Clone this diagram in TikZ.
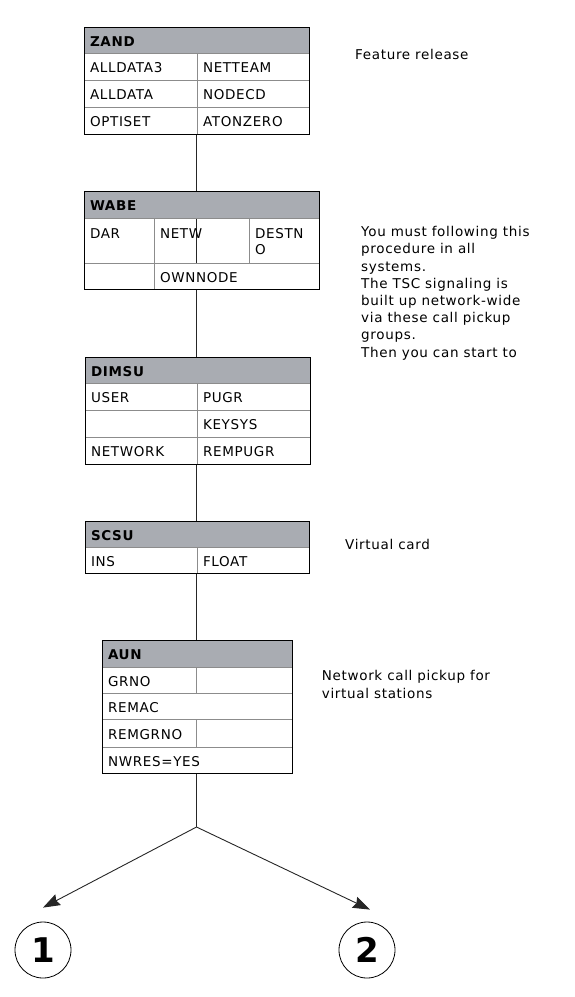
\documentclass[tikz,border=0pt]{standalone}
\usepackage{fontspec}
\newfontfamily\cellfont{DejaVu Sans}[LetterSpace=5]
\newfontfamily\numfont{DejaVu Sans}
\usetikzlibrary{backgrounds,
  arrows.meta,
  fit,
  positioning,
  calc}
\pgfdeclarelayer{background}
\pgfsetlayers{background,main}
\definecolor{headgray}{RGB}{169,172,178}
\definecolor{gridgray}{RGB}{140,140,140}

\begin{document}
\begin{tikzpicture}[x=1pt, y=-1pt]
    % Define styles for table cells, notes and arrows
    \tikzstyle{cell} = [rectangle, draw=gridgray, fill=white, anchor=north west, outer sep=0pt, inner xsep=6pt, inner ysep=0pt, text height=13pt, text depth=1pt, minimum height=27pt, align=left, font=\cellfont\fontsize{13.5}{16.7}\selectfont]
    \tikzstyle{head} = [cell, fill=headgray, minimum height=26pt, font=\cellfont\bfseries\fontsize{13.5}{16.7}\selectfont]
    \tikzstyle{frame} = [rectangle, draw=black, line width=0.8pt, inner sep=0pt]
    \tikzstyle{note} = [anchor=base west, align=left, inner sep=0pt, font=\cellfont\fontsize{13.5}{17.2}\selectfont]
    \tikzstyle{num} = [circle, draw=black, line width=0.8pt, minimum size=56pt, inner sep=0pt, font=\numfont\bfseries\fontsize{34}{34}\selectfont]
    \tikzset{link/.style={draw=black!85, line width=0.9pt},
      branch/.style={link, -{Stealth[length=17pt, width=12pt, inset=2pt]}}}
    \useasboundingbox (0,0) rectangle (575,997);

    % ZAND
    \node[head, text width=213pt] (zandhead) at (84,27) {ZAND};
    \node[cell, text width=101pt] (zand11) at (84,53) {ALLDATA3};
    \node[cell, text width=100pt, right=0pt of zand11] (zand12) {NETTEAM};
    \node[cell, text width=101pt] (zand21) at (84,80) {ALLDATA};
    \node[cell, text width=100pt, right=0pt of zand21] (zand22) {NODECD};
    \node[cell, text width=101pt] (zand31) at (84,107) {OPTISET};
    \node[cell, text width=100pt, right=0pt of zand31] (zand32) {ATONZERO};
    \node[frame, fit=(zandhead)(zand32)] (zand) {};

    % WABE
    \node[head, text width=223pt, minimum height=27pt] (wabehead) at (84,191) {WABE};
    \node[cell, text width=58pt, minimum height=45pt, text depth=18pt] (wabe11) at (84,218) {DAR};
    \node[cell, text width=83pt, minimum height=45pt, text depth=18pt, fill=none, right=0pt of wabe11] (wabe12) {NETW};
    \node[cell, text width=58pt, minimum height=45pt, text depth=18pt, right=0pt of wabe12] (wabe13) {DESTN\\O};
    \node[cell, text width=58pt, minimum height=26pt] (wabe21) at (84,263) {};
    \node[cell, text width=153pt, minimum height=26pt, right=0pt of wabe21] (wabe22) {OWNNODE};
    \node[frame, fit=(wabehead)(wabe22)] (wabe) {};

    % DIMSU
    \node[head, text width=213pt] (dimsuhead) at (85,357) {DIMSU};
    \node[cell, text width=100pt] (dimsu11) at (85,383) {USER};
    \node[cell, text width=101pt, right=0pt of dimsu11] (dimsu12) {PUGR};
    \node[cell, text width=100pt] (dimsu21) at (85,410) {};
    \node[cell, text width=101pt, right=0pt of dimsu21] (dimsu22) {KEYSYS};
    \node[cell, text width=100pt] (dimsu31) at (85,437) {NETWORK};
    \node[cell, text width=101pt, right=0pt of dimsu31] (dimsu32) {REMPUGR};
    \node[frame, fit=(dimsuhead)(dimsu32)] (dimsu) {};

    % SCSU
    \node[head, text width=212pt] (scsuhead) at (85,521) {SCSU};
    \node[cell, text width=100pt, minimum height=26pt] (scsu11) at (85,547) {INS};
    \node[cell, text width=100pt, minimum height=26pt, right=0pt of scsu11] (scsu12) {FLOAT};
    \node[frame, fit=(scsuhead)(scsu12)] (scsu) {};

    % AUN
    \node[head, text width=178pt, minimum height=27pt] (aunhead) at (102,640) {AUN};
    \node[cell, text width=82pt, minimum height=26pt] (aun11) at (102,667) {GRNO};
    \node[cell, text width=84pt, minimum height=26pt, right=0pt of aun11] (aun12) {};
    \node[cell, text width=178pt, minimum height=26pt] (aun21) at (102,693) {REMAC};
    \node[cell, text width=82pt, minimum height=28pt] (aun31) at (102,719) {REMGRNO};
    \node[cell, text width=84pt, minimum height=28pt, right=0pt of aun31] (aun32) {};
    \node[cell, text width=178pt, minimum height=26pt] (aun41) at (102,747) {NWRES=YES};
    \node[frame, fit=(aunhead)(aun41)] (aun) {};

    % Notes (base = last line)
    \node[note] (release) at (355,59.3) {Feature release};
    \node[note] (procedure) at (361,357.1) {You must following this\\procedure in all\\systems.\\The TSC signaling is\\built up network-wide\\via these call pickup\\groups.\\Then you can start to};
    \node[note] (vcard) at (345,549) {Virtual card};
    \node[note] (pickup) at (321.7,698) {Network call pickup for\\virtual stations};

    % Targets
    \node[num] (one) at (43,950) {1};
    \node[num] (two) at (367,950) {2};
    \coordinate (fork) at (196.5,827);
    \coordinate (tip1) at ([yshift=14pt]one.north);
    \coordinate (tip2) at ([xshift=3pt, yshift=12pt]two.north);

    % Connections
    \begin{pgfonlayer}{background}
      \draw[link] (zand.south) -- (fork);
    \end{pgfonlayer}
    \draw[branch] (fork) -- (tip1);
    \draw[branch] (fork) -- (tip2);
\end{tikzpicture}
\end{document}
